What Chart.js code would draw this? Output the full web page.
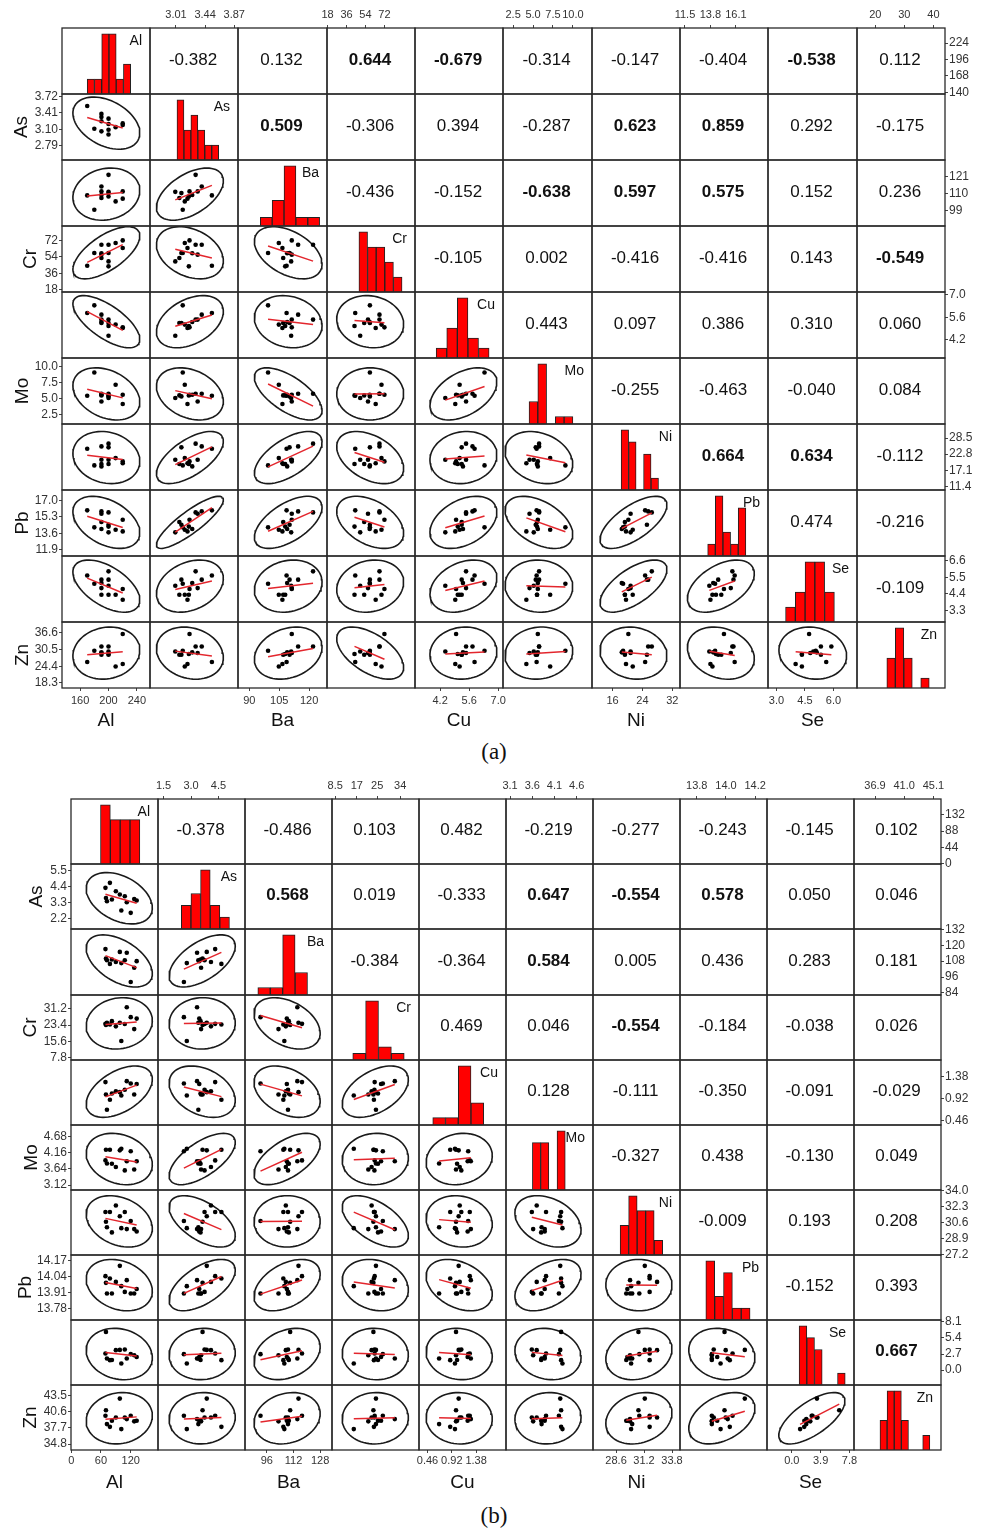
<!DOCTYPE html>
<html>
<head>
<meta charset="utf-8">
<script src="https://cdn.jsdelivr.net/npm/chart.js@4.4.1/dist/chart.umd.min.js"></script>
<style>
html, body { margin: 0; padding: 0; background: #fff; }
#page { position: relative; width: 988px; height: 1533px; overflow: hidden; background: #fff; }
#page canvas { position: absolute; }
.tag { position: absolute; font-family: "Liberation Serif", "DejaVu Serif", serif; font-size: 23px; color: #111; transform: translate(-50%, -50%); }
</style>
</head>
<body>
<div id="page">
  <div class="tag" style="left:494px;top:752px">(a)</div>
  <div class="tag" style="left:494px;top:1516px">(b)</div>
</div>
<script>
var vars = ['Al', 'As', 'Ba', 'Cr', 'Cu', 'Mo', 'Ni', 'Pb', 'Se', 'Zn'];

// ---- panel (a): 13 samples
var alA = [170, 180, 190, 190, 190, 190, 200, 200, 200, 200, 210, 220, 220];
var asA = [3.54, 3.11, 3.39, 3.33, 3.06, 3.25, 3.30, 3.09, 3.00, 3.20, 3.14, 3.21, 3.18];
var baA = [108.7, 99.4, 114.5, 111.3, 107.0, 109.0, 122.0, 110.2, 111.0, 108.0, 104.8, 111.3, 106.6];
var crA = [44.3, 58.2, 67.3, 56.4, 52.8, 58.0, 67.3, 58.2, 49.0, 43.6, 69.2, 72.0, 63.7];
var cuA = [5.86, 6.34, 5.76, 5.45, 5.24, 5.30, 5.45, 5.24, 4.45, 5.05, 5.14, 4.97, 4.93];
var moA = [5.45, 9.06, 5.76, 4.56, 5.50, 5.60, 5.76, 5.34, 5.09, 5.50, 7.15, 5.60, 4.16];
var niA = [24.72, 18.82, 25.54, 20.83, 19.30, 18.47, 26.50, 25.20, 20.83, 19.30, 21.40, 20.23, 19.60];
var pbA = [15.99, 14.22, 15.88, 15.64, 14.78, 14.05, 15.78, 14.50, 13.70, 14.30, 13.98, 15.02, 13.80];
var seA = [5.62, 5.07, 5.34, 4.78, 4.34, 5.12, 5.89, 5.34, 4.94, 4.34, 4.34, 4.72, 4.01];
var znA = [25.96, 30.10, 31.67, 29.25, 28.63, 29.50, 31.67, 28.63, 29.84, 28.90, 24.35, 36.20, 25.23];

// correlations, upper triangle row by row
var corA = [
  [-0.382, 0.132, 0.644, -0.679, -0.314, -0.147, -0.404, -0.538, 0.112],
  [0.509, -0.306, 0.394, -0.287, 0.623, 0.859, 0.292, -0.175],
  [-0.436, -0.152, -0.638, 0.597, 0.575, 0.152, 0.236],
  [-0.105, 0.002, -0.416, -0.416, 0.143, -0.549],
  [0.443, 0.097, 0.386, 0.310, 0.060],
  [-0.255, -0.463, -0.040, 0.084],
  [0.664, 0.634, -0.112],
  [0.474, -0.216],
  [-0.109]
];

var colTicksA = [['160','200','240'], ['3.01','3.44','3.87'], ['90','105','120'], ['18','36','54','72'], ['4.2','5.6','7.0'],
                 ['2.5','5.0','7.5','10.0'], ['16','24','32'], ['11.5','13.8','16.1'], ['3.0','4.5','6.0'], ['20','30','40']];
var colRangeA = [[134.5, 258.4], [2.627, 3.925], [84.3, 129.0], [17.5, 101.0], [2.99, 7.23],
                 [1.23, 12.4], [10.5, 34.05], [11.05, 19.0], [2.556, 7.24], [13.7, 44.0]];
var rowTicksA = [['140','168','196','224'], ['2.79','3.10','3.41','3.72'], ['99','110','121'], ['18','36','54','72'], ['4.2','5.6','7.0'],
                 ['2.5','5.0','7.5','10.0'], ['11.4','17.1','22.8','28.5'], ['11.9','13.6','15.3','17.0'], ['3.3','4.4','5.5','6.6'], ['18.3','24.4','30.5','36.6']];
var rowRangeA = [[137.3, 249.5], [2.52, 3.765], [88.9, 131.6], [15.5, 87.8], [3.06, 7.17],
                 [1.06, 11.3], [10.13, 33.45], [11.24, 18.11], [2.53, 6.91], [16.47, 40.6]];

var histStartA = [170, 3.025, 95.5, 47.8, 4.01, 4.5, 18.3, 13.55, 3.48, 23.97];
var histWidthA = [10.2, 0.1025, 5.96, 8.18, 0.51, 1.1, 2.0, 0.69, 0.514, 2.92];
var histCountA = [[1,1,4,4,1,2], [4,2,3,2,1,1], [1,3,7,1,1], [4,3,3,2,1], [1,3,6,2,1],
                  [3,8,0,1,1], [5,4,0,3,1], [1,5,2,1,4], [1,2,4,4,2], [3,6,3,0,1]];

// ---- panel (b): 13 samples
var alB = [69, 70, 72, 78, 82, 90, 98, 101, 108, 112, 120, 127, 132];
var asB = [4.32, 3.63, 3.40, 4.66, 3.52, 4.09, 3.86, 2.77, 3.74, 3.33, 2.61, 3.55, 3.45];
var baB = [117.1, 110.0, 108.7, 105.9, 109.2, 107.4, 115.0, 106.5, 108.7, 114.3, 92.2, 103.0, 108.0];
var crB = [24.0, 23.5, 24.5, 23.7, 25.3, 22.8, 24.5, 15.8, 23.9, 31.9, 27.2, 21.5, 26.5];
var cuB = [1.26, 1.00, 0.68, 0.89, 1.02, 1.07, 1.05, 0.98, 1.10, 1.28, 1.23, 1.00, 1.22];
var moB = [3.91, 4.25, 3.81, 4.25, 3.80, 3.70, 4.23, 4.28, 3.59, 3.88, 4.20, 3.62, 3.88];
var niB = [31.72, 30.68, 30.10, 31.72, 29.55, 32.41, 31.27, 30.00, 31.72, 29.90, 30.76, 29.90, 29.65];
var pbB = [14.045, 13.990, 13.903, 14.026, 13.903, 13.998, 14.129, 13.963, 13.916, 14.012, 13.903, 13.903, 13.940];
var seB = [2.80, 6.42, 1.96, 1.68, 1.70, 3.36, 3.40, 1.12, 3.47, 1.96, 2.69, 2.50, 2.20];
var znB = [39.9, 40.9, 38.4, 37.9, 39.0, 39.6, 43.0, 37.5, 39.6, 39.3, 39.9, 38.9, 39.0];

var corB = [
  [-0.378, -0.486, 0.103, 0.482, -0.219, -0.277, -0.243, -0.145, 0.102],
  [0.568, 0.019, -0.333, 0.647, -0.554, 0.578, 0.050, 0.046],
  [-0.384, -0.364, 0.584, 0.005, 0.436, 0.283, 0.181],
  [0.469, 0.046, -0.554, -0.184, -0.038, 0.026],
  [0.128, -0.111, -0.350, -0.091, -0.029],
  [-0.327, 0.438, -0.130, 0.049],
  [-0.009, 0.193, 0.208],
  [-0.152, 0.393],
  [0.667]
];

var colTicksB = [['0','60','120'], ['1.5','3.0','4.5'], ['96','112','128'], ['8.5','17','25','34'], ['0.46','0.92','1.38'],
                 ['3.1','3.6','4.1','4.6'], ['28.6','31.2','33.8'], ['13.8','14.0','14.2'], ['0.0','3.9','7.8'], ['36.9','41.0','45.1']];
var colRangeB = [[-0.5, 175.0], [1.195, 5.95], [82.9, 135.1], [7.25, 41.4], [0.30, 1.945],
                 [3.008, 4.968], [26.46, 34.54], [13.685, 14.281], [-3.36, 8.42], [33.95, 46.17]];
var rowTicksB = [['0','44','88','132'], ['2.2','3.3','4.4','5.5'], ['84','96','108','120','132'], ['7.8','15.6','23.4','31.2'], ['0.46','0.92','1.38'],
                 ['3.12','3.64','4.16','4.68'], ['27.2','28.9','30.6','32.3','34.0'], ['13.78','13.91','14.04','14.17'], ['0.0','2.7','5.4','8.1'], ['34.8','37.7','40.6','43.5']];
var rowRangeB = [[-0.4, 174.2], [1.506, 5.95], [82.4, 132.3], [6.72, 37.79], [0.362, 1.723],
                 [2.964, 5.04], [27.15, 34.05], [13.686, 14.218], [-2.49, 8.42], [33.73, 45.45]];

var histStartB = [59, 2.47, 90.6, 15.4, 0.56, 3.603, 28.98, 13.862, 0.99, 37.6];
var histWidthB = [19.85, 0.526, 7.45, 5.05, 0.241, 0.185, 0.79, 0.0606, 1.04, 1.0];
var histCountB = [[4,3,3,3], [2,3,5,2,1], [1,1,8,3], [1,9,2,1], [1,1,8,3],
                  [4,4,0,5], [2,4,3,3,1], [5,2,4,1,1], [5,4,3,0,0,1], [2,4,4,2,0,0,1]];

// ---- chart setup
Chart.defaults.font.family = '"Liberation Sans", Arial, sans-serif';
Chart.defaults.animation = false;
Chart.defaults.responsive = false;
Chart.defaults.events = [];
Chart.defaults.plugins.legend.display = false;
Chart.defaults.plugins.tooltip.enabled = false;

var FONT = '"Liberation Sans", Arial, sans-serif';
var M = 14;
var page = document.getElementById('page');

var cellPlugin = {
  id: 'cell',
  afterDatasetsDraw: function (chart, args, o) {
    var a = chart.chartArea, c = chart.ctx;
    c.save();
    if (o.text) {
      c.font = (o.bold ? 'bold ' : '') + '17px ' + FONT;
      c.fillStyle = '#111';
      c.textAlign = 'center';
      c.textBaseline = 'middle';
      c.fillText(o.text, (a.left + a.right) / 2 - 1, (a.top + a.bottom) / 2 - 1);
    }
    if (o.name) {
      c.font = '14px ' + FONT;
      c.fillStyle = '#111';
      c.textAlign = 'right';
      c.textBaseline = 'top';
      c.fillText(o.name, a.right - 8, a.top + 6);
    }
    c.lineWidth = 1.3;
    c.strokeStyle = '#2a2a2a';
    c.strokeRect(a.left, a.top, a.right - a.left, a.bottom - a.top);
    c.restore();
  }
};
Chart.register(cellPlugin);

function mean(a) {
  var s = 0;
  a.forEach(function (v) { s += v; });
  return s / a.length;
}

function axis(dir, show, pos, range, labels, size, title, fontSize, pad) {
  var cfg = {
    type: 'linear', min: range[0], max: range[1], display: show, position: pos, offset: false,
    grid: { drawOnChartArea: false, drawTicks: true, tickLength: 3, color: '#444', lineWidth: 1 },
    border: { display: false },
    ticks: {
      autoSkip: false, maxRotation: 0, minRotation: 0, padding: pad, color: '#333',
      font: { size: fontSize },
      callback: function (v, k) { return labels ? labels[k] : ''; }
    },
    title: { display: !!title, text: title || '', color: '#111', font: { size: 19 }, padding: 0 }
  };
  if (show) {
    cfg.afterBuildTicks = function (s) {
      s.ticks = labels.map(function (t) { return { value: parseFloat(t) }; });
    };
    cfg.afterFit = function (s) {
      if (dir == 'x') s.height = size; else s.width = size;
      s.paddingLeft = 0; s.paddingRight = 0; s.paddingTop = 0; s.paddingBottom = 0;
    };
  }
  return cfg;
}

function makeCell(p, i, j) {
  var x0 = Math.round(p.left + j * p.cw), x1 = Math.round(p.left + (j + 1) * p.cw);
  var y0 = Math.round(p.top + i * p.ch), y1 = Math.round(p.top + (i + 1) * p.ch);
  var showTop = i == 0 && j % 2 == 1;
  var showBottom = i == 9 && j % 2 == 0;
  var showLeft = j == 0 && i % 2 == 1;
  var showRight = j == 9 && i % 2 == 0;
  var padL = M + (showLeft ? p.axisL[i] : 0), padR = M + (showRight ? 34 : 0);
  var padT = M + (showTop ? 22 : 0), padB = M + (showBottom ? 44 : 0);
  var W = x1 - x0 + padL + padR, H = y1 - y0 + padT + padB;

  var cv = document.createElement('canvas');
  cv.width = W; cv.height = H;
  cv.style.left = (x0 - padL) + 'px';
  cv.style.top = (y0 - padT) + 'px';
  cv.style.width = W + 'px';
  cv.style.height = H + 'px';
  page.appendChild(cv);

  var xScale = axis('x', showTop || showBottom, showTop ? 'top' : 'bottom', p.colRange[j], p.colTicks[j],
                    showTop ? 22 : 44, showBottom ? vars[j] : '', 11, showTop ? 3 : p.bottomPad);
  var yScale = axis('y', showLeft || showRight, showLeft ? 'left' : 'right', p.rowRange[i], p.rowTicks[i],
                    showLeft ? p.axisL[i] : 34, showLeft ? vars[i] : '', 12, 1);
  var opts = {
    layout: { padding: M, autoPadding: false },
    scales: { x: xScale, y: yScale },
    plugins: { cell: {} }
  };
  var type = 'scatter', datasets = [];

  if (i == j) {
    // histogram on the diagonal
    type = 'bar';
    var counts = p.hCount[i], bins = [], cmax = 0;
    counts.forEach(function (n, k) {
      if (n > 0) bins.push({ x: p.hStart[i] + (k + 0.5) * p.hWidth[i], y: n });
      cmax = Math.max(cmax, n);
    });
    datasets.push({
      data: bins, backgroundColor: '#ff0000', borderColor: '#222', borderWidth: 1,
      barPercentage: 1, categoryPercentage: 1
    });
    opts.scales.y = { type: 'linear', display: false, min: 0, max: cmax / 0.91 };
    opts.scales.x.display = false;
    opts.plugins.cell.name = vars[i];
  } else if (i < j) {
    // correlation value
    var r = p.cor[i][j - i - 1];
    opts.plugins.cell.text = r.toFixed(3);
    opts.plugins.cell.bold = Math.abs(r) >= 0.5;
  } else {
    var xs = p.data[j], ys = p.data[i];
    var rr = p.cor[j][i - j - 1];
    var pts = xs.map(function (v, k) { return { x: v, y: ys[k] }; });
    var mx = mean(xs), my = mean(ys);
    var xr = p.colRange[j], yr = p.rowRange[i];
    var A = 0.76 * (xr[1] - xr[0]) / 2, B = 0.79 * (yr[1] - yr[0]) / 2;
    var d = Math.acos(rr), ell = [];
    for (var k = 0; k <= 72; k++) {
      var t = 2 * Math.PI * k / 72;
      ell.push({ x: mx + A * Math.cos(t + d / 2), y: my + B * Math.cos(t - d / 2) });
    }
    var s = rr * B / A;
    var xmin = Math.min.apply(null, xs), xmax = Math.max.apply(null, xs);
    var fit = [{ x: xmin, y: my + s * (xmin - mx) }, { x: xmax, y: my + s * (xmax - mx) }];
    datasets.push({ data: fit, showLine: true, borderColor: '#e3262d', borderWidth: 1.5, pointRadius: 0, fill: false });
    datasets.push({ data: pts, pointRadius: 2.3, pointBackgroundColor: '#000', pointBorderWidth: 0 });
    datasets.push({ data: ell, showLine: true, borderColor: '#1a1a1a', borderWidth: 1.6, pointRadius: 0, fill: false });
  }

  new Chart(cv, { type: type, data: { datasets: datasets }, options: opts });
}

function drawPanel(p) {
  for (var i = 0; i < 10; i++)
    for (var j = 0; j < 10; j++)
      makeCell(p, i, j);
}

drawPanel({
  data: [alA, asA, baA, crA, cuA, moA, niA, pbA, seA, znA], cor: corA,
  colTicks: colTicksA, colRange: colRangeA, rowTicks: rowTicksA, rowRange: rowRangeA,
  hStart: histStartA, hWidth: histWidthA, hCount: histCountA,
  left: 61.7, top: 28.3, cw: 88.33, ch: 66.0, axisL: [0, 52, 0, 43, 0, 51, 0, 51, 0, 51], bottomPad: 3
});

drawPanel({
  data: [alB, asB, baB, crB, cuB, moB, niB, pbB, seB, znB], cor: corB,
  colTicks: colTicksB, colRange: colRangeB, rowTicks: rowTicksB, rowRange: rowRangeB,
  hStart: histStartB, hWidth: histWidthB, hCount: histCountB,
  left: 70.7, top: 799.3, cw: 87.03, ch: 65.07, axisL: [0, 46, 0, 52, 0, 51, 0, 57, 0, 52], bottomPad: 1
});
</script>
</body>
</html>
